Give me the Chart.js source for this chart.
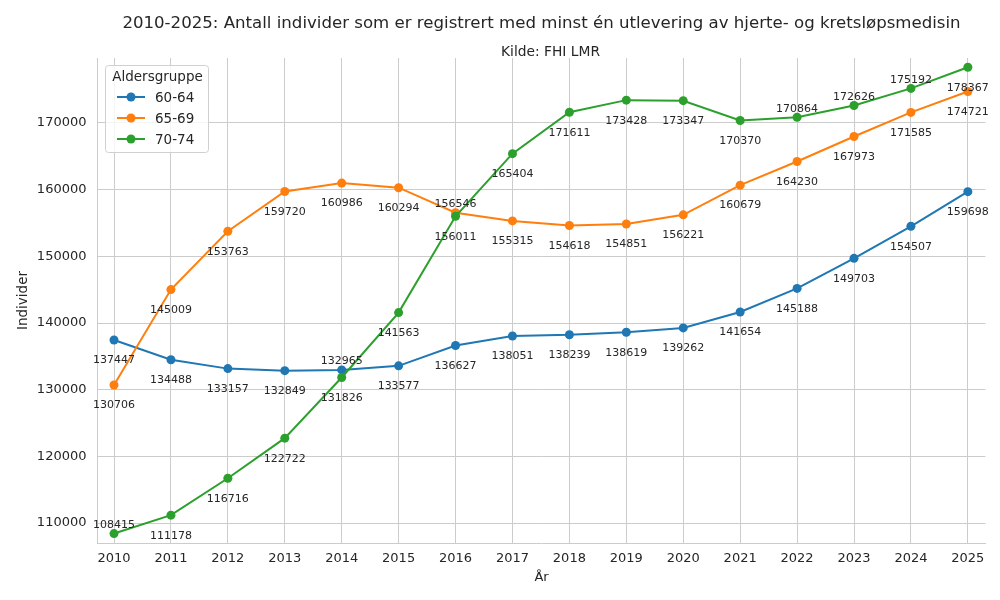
<!DOCTYPE html>
<html>
<head>
<meta charset="utf-8">
<script src="https://cdn.jsdelivr.net/npm/chart.js@4.4.1/dist/chart.umd.min.js"></script>
<style>
  html, body { margin: 0; padding: 0; background: #fff; }
  #wrap { width: 1000px; height: 600px; position: relative; }
</style>
</head>
<body>
<div id="wrap"><canvas id="chart" width="1000" height="600"></canvas></div>
<script>
const years = [2010, 2011, 2012, 2013, 2014, 2015, 2016, 2017, 2018, 2019, 2020, 2021, 2022, 2023, 2024, 2025];
const group6064 = [137447, 134488, 133157, 132849, 132965, 133577, 136627, 138051, 138239, 138619, 139262, 141654, 145188, 149703, 154507, 159698];
const group6569 = [130706, 145009, 153763, 159720, 160986, 160294, 156546, 155315, 154618, 154851, 156221, 160679, 164230, 167973, 171585, 174721];
const group7074 = [108415, 111178, 116716, 122722, 131826, 141563, 156011, 165404, 171611, 173428, 173347, 170370, 170864, 172626, 175192, 178367];
const groupNames = ['60-64', '65-69', '70-74'];
const yTicks = [110000, 120000, 130000, 140000, 150000, 160000, 170000];

const colors = ['#1f77b4', '#ff7f0e', '#2ca02c'];
const textColor = '#262626';
const gridColor = '#cccccc';
const font = "'DejaVu Sans', sans-serif";

// which labels sit above their point (index per series), the rest go below
const labelsAbove = [[4], [6], [0, 12, 13, 14]];

const seriesValues = [group6064, group6569, group7074];

const labelPlugin = {
    id: 'pointLabels',
    afterDatasetsDraw(chart) {
        const ctx = chart.ctx;
        ctx.save();
        ctx.font = '11px ' + font;
        ctx.fillStyle = textColor;
        ctx.textAlign = 'center';
        ctx.textBaseline = 'middle';
        chart.data.datasets.forEach((ds, di) => {
            const meta = chart.getDatasetMeta(di);
            meta.data.forEach((pt, i) => {
                const above = labelsAbove[di].includes(i);
                const dy = above ? -8.5 : 20.5;
                ctx.fillText(String(seriesValues[di][i]), pt.x, pt.y + dy);
            });
        });
        ctx.restore();
    }
};

const decorPlugin = {
    id: 'decor',
    afterDraw(chart) {
        const ctx = chart.ctx;
        const area = chart.chartArea;
        const cx = (area.left + area.right) / 2;
        ctx.save();
        ctx.fillStyle = textColor;
        ctx.textAlign = 'center';
        ctx.textBaseline = 'middle';
        ctx.font = '16.6px ' + font;
        ctx.fillText('2010-2025: Antall individer som er registrert med minst én utlevering av hjerte- og kretsløpsmedisin', cx, 24);
        ctx.font = '13.8px ' + font;
        ctx.fillText('Kilde: FHI LMR', 550.5, 52);

        // legend
        const lx = 105, ly = 65, lw = 103, lh = 87;
        ctx.fillStyle = 'rgba(255,255,255,0.8)';
        ctx.strokeStyle = '#d0d0d0';
        ctx.lineWidth = 1;
        ctx.beginPath();
        ctx.roundRect(lx + 0.5, ly + 0.5, lw, lh, 3);
        ctx.fill();
        ctx.stroke();
        ctx.fillStyle = textColor;
        ctx.font = '13.5px ' + font;
        ctx.fillText('Aldersgruppe', lx + lw / 2 + 1, ly + 12);
        ctx.textAlign = 'left';
        groupNames.forEach((name, i) => {
            const y = ly + 32 + i * 21;
            ctx.strokeStyle = colors[i];
            ctx.lineWidth = 2;
            ctx.beginPath();
            ctx.moveTo(117, y);
            ctx.lineTo(145, y);
            ctx.stroke();
            ctx.fillStyle = colors[i];
            ctx.beginPath();
            ctx.arc(131, y, 4.5, 0, Math.PI * 2);
            ctx.fill();
            ctx.fillStyle = textColor;
            ctx.fillText(name, 155, y + 1);
        });
        ctx.restore();
    }
};

const datasets = seriesValues.map((vals, i) => ({
    label: groupNames[i],
    data: years.map((yr, j) => ({ x: yr, y: vals[j] })),
    borderColor: colors[i],
    backgroundColor: colors[i],
    borderWidth: 2,
    pointRadius: 4.5,
    pointHoverRadius: 4.5,
    pointBorderWidth: 0,
    tension: 0,
    order: 2 - i
}));

new Chart(document.getElementById('chart'), {
    type: 'line',
    data: { datasets },
    options: {
        responsive: false,
        animation: false,
        events: [],
        layout: { padding: { left: 15, right: 14.5, top: 58, bottom: 15 } },
        plugins: {
            legend: { display: false },
            title: { display: false },
            tooltip: { enabled: false }
        },
        scales: {
            x: {
                type: 'linear',
                min: 2009.71,
                max: 2025.31,
                afterBuildTicks: (scale) => { scale.ticks = years.map(v => ({ value: v })); },
                afterFit: (scale) => { scale.height = 42; },
                grid: { color: gridColor, drawTicks: false, lineWidth: 1 },
                border: { display: true, color: gridColor, width: 1 },
                ticks: {
                    color: textColor,
                    font: { family: font, size: 13 },
                    padding: 8,
                    maxRotation: 0,
                    autoSkip: false,
                    callback: (v) => String(v)
                },
                title: {
                    display: true,
                    text: 'År',
                    color: textColor,
                    font: { family: font, size: 13 },
                    padding: { top: 4, bottom: 0 }
                }
            },
            y: {
                type: 'linear',
                min: 107000,
                max: 179750,
                afterBuildTicks: (scale) => { scale.ticks = yTicks.map(v => ({ value: v })); },
                afterFit: (scale) => { scale.width = 82.5; },
                grid: { color: gridColor, drawTicks: false, lineWidth: 1 },
                border: { display: true, color: gridColor, width: 1 },
                ticks: {
                    color: textColor,
                    font: { family: font, size: 13 },
                    padding: 11,
                    callback: (v) => String(v)
                },
                title: {
                    display: true,
                    text: 'Individer',
                    color: textColor,
                    font: { family: font, size: 13.5 },
                    padding: { top: 0, bottom: 4 }
                }
            }
        }
    },
    plugins: [labelPlugin, decorPlugin]
});
</script>
</body>
</html>
